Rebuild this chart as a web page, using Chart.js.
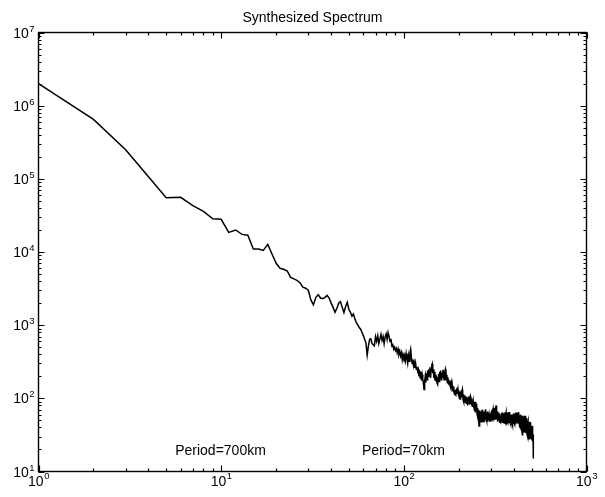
<!DOCTYPE html>
<html>
<head>
<meta charset="utf-8">
<script src="https://cdn.jsdelivr.net/npm/chart.js@4.4.1/dist/chart.umd.min.js"></script>
<style>
  html, body { margin: 0; padding: 0; background: #fff; }
  canvas { display: block; }
</style>
</head>
<body>
<canvas id="c" width="605" height="497"></canvas>
<script>
// ---- Data (wavenumber k = start, start+1, ...) ----
const chartTitle = 'Synthesized Spectrum';

const lowStart = 1;   // k = 1 .. 64
const specLow = [
  2000000, 650000, 250000, 107000, 55000, 56000, 43000, 36000, 28500, 28000,
  18500, 20000, 17400, 17000, 11000, 11000, 10500, 12700, 9300, 7000,
  6000, 5800, 5500, 4500, 4300, 4100, 3800, 3300, 3200, 3000,
  2200, 1900, 2400, 2600, 2350, 2300, 2400, 2550, 2350, 2000,
  1750, 1500, 1700, 2000, 2100, 1750, 1480, 1800, 2050, 1650,
  1500, 1330, 1420, 1200, 1080, 1000, 930, 880, 800, 720,
  640, 575, 390, 520
];

const midStart = 65;  // k = 65 .. 200
const specMid = [
  640, 650, 560, 540, 520, 700, 600, 720, 560, 650,
  750, 620, 700, 560, 690, 760, 640, 790, 700, 600,
  650, 520, 540, 470, 500, 450, 480, 420, 470, 400,
  440, 380, 420, 340, 400, 360, 390, 330, 410, 350,
  300, 380, 320, 420, 470, 360, 300, 340, 280, 310,
  260, 300, 250, 270, 235, 250, 200, 240, 190, 230,
  175, 210, 185, 160, 132, 170, 200, 165, 220, 180,
  240, 200, 250, 210, 265, 190, 240, 280, 295, 220,
  250, 190, 230, 175, 210, 170, 200, 160, 155, 190,
  215, 170, 230, 185, 240, 200, 175, 225, 190, 245,
  205, 180, 230, 200, 250, 235, 180, 210, 165, 195,
  160, 180, 155, 170, 150, 175, 140, 160, 135, 150,
  125, 145, 120, 140, 115, 130, 112, 125, 110, 135,
  118, 140, 115, 130, 108, 125
];

const highStart = 201; // k = 201 .. 512
const specHigh = [
  102, 124, 98, 118, 100, 128, 104, 122, 132, 106,
  96, 114, 90, 110, 88, 108, 96, 86, 106, 92,
  84, 102, 88, 80, 100, 86, 106, 90, 82, 102,
  107, 90, 84, 100, 80, 94, 78, 92, 80, 90,
  74, 88, 70, 86, 68, 90, 72, 66, 84, 64,
  80, 60, 74, 56, 70, 52, 64, 42, 56, 68,
  52, 66, 50, 62, 48, 64, 54, 70, 50, 60,
  56, 48, 66, 52, 62, 50, 58, 48, 68, 56,
  71, 54, 64, 50, 60, 52, 66, 48, 58, 52,
  64, 50, 58, 48, 62, 50, 56, 60, 48, 51,
  62, 50, 68, 54, 72, 52, 64, 70, 54, 66,
  50, 68, 74, 56, 70, 52, 76, 60, 72, 80,
  58, 70, 52, 66, 50, 62, 48, 60, 52, 64,
  50, 60, 46, 58, 52, 62, 48, 56, 50, 47,
  58, 48, 62, 50, 64, 48, 56, 46, 60, 52,
  62, 48, 58, 46, 60, 50, 64, 48, 56, 60,
  46, 58, 64, 48, 56, 44, 62, 50, 60, 48,
  64, 50, 58, 46, 62, 52, 65, 48, 60, 46,
  58, 46, 60, 50, 56, 44, 60, 48, 44, 56,
  46, 58, 43, 54, 60, 46, 56, 62, 48, 58,
  46, 60, 48, 62, 50, 44, 58, 48, 64, 50,
  44, 58, 48, 62, 46, 56, 64, 48, 60, 50,
  62, 46, 58, 64, 48, 60, 65, 50, 44, 58,
  46, 40, 56, 44, 60, 38, 54, 42, 58, 36,
  50, 38, 56, 34, 31, 48, 54, 36, 58, 44,
  34, 52, 40, 56, 42, 34, 50, 58, 38, 54,
  40, 56, 36, 58, 57, 42, 34, 54, 38, 52,
  36, 48, 32, 46, 34, 50, 30, 44, 48, 32,
  44, 30, 46, 34, 28, 42, 48, 32, 44, 30,
  42, 46, 32, 44, 47, 34, 29, 42, 32, 28,
  38, 28, 36, 42, 30, 40, 28, 38, 28, 32,
  26, 15
];

// Axis decades (tick labels are 10^exp)
const xTickExps = [0, 1, 2, 3];
const yTickExps = [1, 2, 3, 4, 5, 6, 7];

// Text annotations placed in data coordinates
const annoTexts = ['Period=700km', 'Period=70km'];
const annoX = [5.6, 59];
const annoY = [19, 19];

// ---- Build points ----
function toPoints(start, arr) {
  return arr.map((v, i) => ({ x: start + i, y: v }));
}
const points = [].concat(
  toPoints(lowStart, specLow),
  toPoints(midStart, specMid),
  toPoints(highStart, specHigh)
);

const FONT = '"Liberation Sans", Arial, Helvetica, sans-serif';

const framePlugin = {
  id: 'matlabFrame',
  afterDraw(chart) {
    const { ctx, chartArea: a } = chart;
    const xs = chart.scales.x, ys = chart.scales.y;
    ctx.save();
    ctx.strokeStyle = '#000';
    ctx.fillStyle = '#000';
    ctx.lineWidth = 1.4;
    ctx.strokeRect(a.left, a.top, a.right - a.left, a.bottom - a.top);

    const major = 6, minor = 3;
    const mult = [2, 3, 4, 5, 6, 7, 8, 9];
    ctx.lineWidth = 1.2;
    ctx.beginPath();
    // x ticks (bottom & top, inward)
    xTickExps.forEach((e, i) => {
      const v = Math.pow(10, e);
      const px = Math.round(xs.getPixelForValue(v)) + 0.5;
      ctx.moveTo(px, a.bottom); ctx.lineTo(px, a.bottom - major);
      ctx.moveTo(px, a.top); ctx.lineTo(px, a.top + major);
      if (i < xTickExps.length - 1) {
        mult.forEach(m => {
          const p = Math.round(xs.getPixelForValue(m * v)) + 0.5;
          ctx.moveTo(p, a.bottom); ctx.lineTo(p, a.bottom - minor);
          ctx.moveTo(p, a.top); ctx.lineTo(p, a.top + minor);
        });
      }
    });
    // y ticks (left & right, inward)
    yTickExps.forEach((e, i) => {
      const v = Math.pow(10, e);
      const py = Math.round(ys.getPixelForValue(v)) + 0.5;
      ctx.moveTo(a.left, py); ctx.lineTo(a.left + major, py);
      ctx.moveTo(a.right, py); ctx.lineTo(a.right - major, py);
      if (i < yTickExps.length - 1) {
        mult.forEach(m => {
          const p = Math.round(ys.getPixelForValue(m * v)) + 0.5;
          ctx.moveTo(a.left, p); ctx.lineTo(a.left + minor, p);
          ctx.moveTo(a.right, p); ctx.lineTo(a.right - minor, p);
        });
      }
    });
    ctx.stroke();

    const baseFont = '14px ' + FONT;
    const expFont = '9.5px ' + FONT;

    // x tick labels: "10" with superscript exponent, centred on the tick
    xTickExps.forEach(e => {
      const px = xs.getPixelForValue(Math.pow(10, e));
      ctx.font = baseFont;
      const wb = ctx.measureText('10').width;
      ctx.font = expFont;
      const we = ctx.measureText(String(e)).width;
      const x0 = px - (wb + we) / 2;
      ctx.textBaseline = 'alphabetic';
      ctx.textAlign = 'left';
      ctx.font = baseFont;
      ctx.fillText('10', x0, a.bottom + 14);
      ctx.font = expFont;
      ctx.fillText(String(e), x0 + wb + 0.5, a.bottom + 7);
    });

    // y tick labels: right aligned, left of axis
    yTickExps.forEach(e => {
      const py = ys.getPixelForValue(Math.pow(10, e));
      ctx.font = expFont;
      const we = ctx.measureText(String(e)).width;
      const xr = a.left - 4;
      ctx.textAlign = 'right';
      ctx.textBaseline = 'alphabetic';
      ctx.fillText(String(e), xr, py - 1);
      ctx.font = baseFont;
      ctx.fillText('10', xr - we - 0.5, py + 5);
    });

    // title
    ctx.font = '14px ' + FONT;
    ctx.textAlign = 'center';
    ctx.textBaseline = 'alphabetic';
    ctx.fillText(chartTitle, (a.left + a.right) / 2, 22);

    // annotations
    ctx.textAlign = 'left';
    ctx.textBaseline = 'middle';
    annoTexts.forEach((t, i) => {
      ctx.fillText(t, xs.getPixelForValue(annoX[i]), ys.getPixelForValue(annoY[i]));
    });
    ctx.restore();
  }
};

new Chart(document.getElementById('c'), {
  type: 'line',
  data: {
    datasets: [{
      data: points,
      borderColor: '#000',
      borderWidth: 1.5,
      pointRadius: 0,
      tension: 0,
      fill: false
    }]
  },
  options: {
    responsive: false,
    animation: false,
    devicePixelRatio: 1,
    layout: { padding: { left: 38.5, top: 32.5, right: 18.5, bottom: 25.5 } },
    plugins: { legend: { display: false }, tooltip: { enabled: false } },
    scales: {
      x: { type: 'logarithmic', min: 1, max: 1000, display: false },
      y: { type: 'logarithmic', min: 10, max: 10000000, display: false }
    }
  },
  plugins: [framePlugin]
});
</script>
</body>
</html>
